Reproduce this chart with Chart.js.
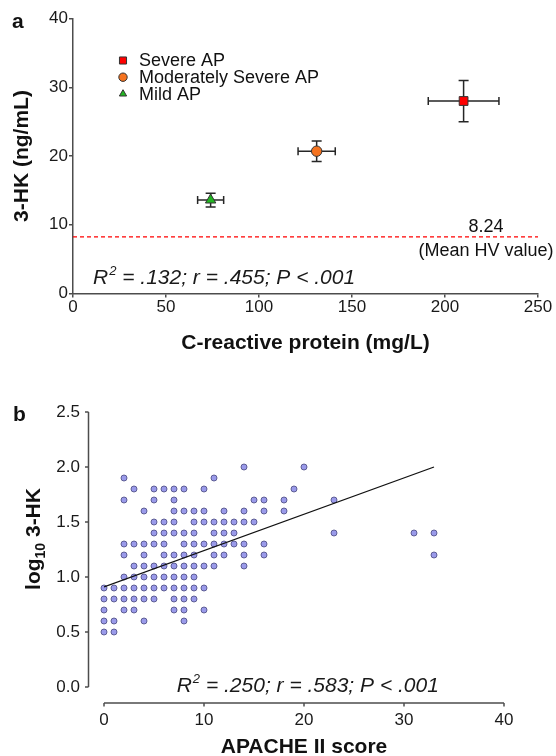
<!DOCTYPE html>
<html>
<head>
<meta charset="utf-8">
<script src="https://cdn.jsdelivr.net/npm/chart.js@4.4.1/dist/chart.umd.min.js"></script>
<style>
  html, body { margin: 0; padding: 0; background: #fff; }
  #wrapA { position: absolute; left: 0; top: 0; width: 556px; height: 360px; }
  #wrapB { position: absolute; left: 0; top: 360px; width: 556px; height: 396px; }
</style>
</head>
<body>
<div id="wrapA"><canvas id="chartA"></canvas></div>
<div id="wrapB"><canvas id="chartB"></canvas></div>
<script>
const FONT = "'Liberation Sans', Arial, Helvetica, sans-serif";
Chart.defaults.font.family = FONT;
Chart.defaults.color = '#1a1a1a';

// panel a: group means with error bars
const groupNames = ['Severe AP', 'Moderately Severe AP', 'Mild AP'];
const crpMean = [210, 131, 74];
const crpErr = [19, 10, 7];
const hkMean = [28.0, 20.7, 13.6];
const hkErr = [3.0, 1.5, 1.0];
const hvMean = 8.24;
const crpTicks = [0, 50, 100, 150, 200, 250];
const hkTicks = [0, 10, 20, 30, 40];
const statsA = ' = .132; r = .455; P < .001';

// panel b: individual patients, read row by row from top
const apacheScore = [
  14, 20,
  2, 11,
  3, 5, 6, 7, 8, 10, 19,
  2, 5, 7, 15, 16, 18, 23,
  4, 7, 8, 9, 10, 12, 14, 16, 18,
  5, 6, 7, 9, 10, 11, 12, 13, 14, 15,
  5, 6, 7, 8, 9, 11, 12, 13, 23, 31, 33,
  2, 3, 4, 5, 6, 8, 9, 10, 11, 12, 13, 14, 16,
  2, 4, 6, 7, 8, 9, 11, 12, 14, 16, 33,
  3, 4, 5, 6, 7, 8, 9, 10, 11, 14,
  2, 3, 4, 5, 6, 7, 8, 9,
  0, 1, 2, 3, 4, 5, 6, 7, 8, 9, 10,
  0, 1, 2, 3, 4, 5, 7, 8, 9,
  0, 2, 3, 7, 8, 10,
  0, 1, 4, 8,
  0, 1
];
const log3HK = [
  2.0, 2.0,
  1.9, 1.9,
  1.8, 1.8, 1.8, 1.8, 1.8, 1.8, 1.8,
  1.7, 1.7, 1.7, 1.7, 1.7, 1.7, 1.7,
  1.6, 1.6, 1.6, 1.6, 1.6, 1.6, 1.6, 1.6, 1.6,
  1.5, 1.5, 1.5, 1.5, 1.5, 1.5, 1.5, 1.5, 1.5, 1.5,
  1.4, 1.4, 1.4, 1.4, 1.4, 1.4, 1.4, 1.4, 1.4, 1.4, 1.4,
  1.3, 1.3, 1.3, 1.3, 1.3, 1.3, 1.3, 1.3, 1.3, 1.3, 1.3, 1.3, 1.3,
  1.2, 1.2, 1.2, 1.2, 1.2, 1.2, 1.2, 1.2, 1.2, 1.2, 1.2,
  1.1, 1.1, 1.1, 1.1, 1.1, 1.1, 1.1, 1.1, 1.1, 1.1,
  1.0, 1.0, 1.0, 1.0, 1.0, 1.0, 1.0, 1.0,
  0.9, 0.9, 0.9, 0.9, 0.9, 0.9, 0.9, 0.9, 0.9, 0.9, 0.9,
  0.8, 0.8, 0.8, 0.8, 0.8, 0.8, 0.8, 0.8, 0.8,
  0.7, 0.7, 0.7, 0.7, 0.7, 0.7,
  0.6, 0.6, 0.6, 0.6,
  0.5, 0.5
];
const fitX = [0, 33];
const fitY = [0.91, 2.0];
const apacheTicks = [0, 10, 20, 30, 40];
const logTicks = [0, 0.5, 1.0, 1.5, 2.0, 2.5];
const statsB = ' = .250; r = .583; P < .001';

const AXIS = '#4d4d4d';

function drawStats(ctx, x, baseline, rest, size) {
  ctx.fillStyle = '#1a1a1a';
  ctx.textBaseline = 'alphabetic';
  ctx.textAlign = 'left';
  ctx.font = 'italic ' + size + 'px ' + FONT;
  ctx.fillText('R', x, baseline);
  let w = ctx.measureText('R').width + 1;
  ctx.font = 'italic ' + Math.round(size * 0.62) + 'px ' + FONT;
  ctx.fillText('2', x + w, baseline - size * 0.42);
  w += ctx.measureText('2').width;
  ctx.font = 'italic ' + size + 'px ' + FONT;
  ctx.fillText(rest, x + w, baseline);
}

// error bars for panel a
const errorBars = {
  id: 'errorBars',
  beforeDatasetsDraw(chart) {
    const {ctx, scales: {x, y}} = chart;
    ctx.save();
    ctx.strokeStyle = '#262626';
    ctx.lineWidth = 1.5;
    crpMean.forEach((cx, i) => {
      const px = x.getPixelForValue(cx);
      const py = y.getPixelForValue(hkMean[i]);
      const x0 = x.getPixelForValue(cx - crpErr[i]);
      const x1 = x.getPixelForValue(cx + crpErr[i]);
      const y0 = y.getPixelForValue(hkMean[i] - hkErr[i]);
      const y1 = y.getPixelForValue(hkMean[i] + hkErr[i]);
      ctx.beginPath();
      ctx.moveTo(x0, py); ctx.lineTo(x1, py);
      ctx.moveTo(x0, py - 4); ctx.lineTo(x0, py + 4);
      ctx.moveTo(x1, py - 4); ctx.lineTo(x1, py + 4);
      ctx.moveTo(px, y0); ctx.lineTo(px, y1);
      ctx.moveTo(px - 5, y0); ctx.lineTo(px + 5, y0);
      ctx.moveTo(px - 5, y1); ctx.lineTo(px + 5, y1);
      ctx.stroke();
    });
    ctx.restore();
  }
};

const textA = {
  id: 'textA',
  afterDraw(chart) {
    const {ctx, chartArea, scales: {y}} = chart;
    ctx.save();
    // panel letter
    ctx.fillStyle = '#111';
    ctx.font = 'bold 21px ' + FONT;
    ctx.textAlign = 'left';
    ctx.textBaseline = 'middle';
    ctx.fillText('a', 12, 22);
    // legend
    chart.data.datasets.forEach((ds, i) => {
      if (i >= groupNames.length) return;
      const ly = chartArea.top + 42 + i * 16.7;
      const lx = chartArea.left + 50;
      ctx.fillStyle = ds.backgroundColor;
      ctx.strokeStyle = '#333';
      ctx.lineWidth = 1;
      Chart.helpers.drawPoint(ctx, {pointStyle: ds.pointStyle, radius: ds.pointStyle === 'rect' ? 5 : 4.2, rotation: 0, borderWidth: 1}, lx, ly);
      ctx.fillStyle = '#111';
      ctx.font = '18px ' + FONT;
      ctx.textAlign = 'left';
      ctx.textBaseline = 'middle';
      ctx.fillText(groupNames[i], lx + 16, ly + 1);
    });
    // HV reference label
    const hy = y.getPixelForValue(hvMean);
    ctx.fillStyle = '#111';
    ctx.font = '18px ' + FONT;
    ctx.textAlign = 'center';
    ctx.textBaseline = 'middle';
    ctx.fillText(hvMean.toFixed(2), chartArea.right - 52, hy - 10);
    ctx.fillText('(Mean HV value)', chartArea.right - 52, hy + 14);
    drawStats(ctx, chartArea.left + 20, chartArea.bottom - 10, statsA, 21);
    ctx.restore();
  }
};

new Chart(document.getElementById('chartA'), {
  type: 'scatter',
  data: {
    datasets: [
      {
        label: groupNames[0],
        data: [{x: crpMean[0], y: hkMean[0]}],
        pointStyle: 'rect', pointRadius: 6.2,
        backgroundColor: '#ff0000', borderColor: '#333', pointBorderWidth: 1,
        order: 1
      },
      {
        label: groupNames[1],
        data: [{x: crpMean[1], y: hkMean[1]}],
        pointStyle: 'circle', pointRadius: 5.2,
        backgroundColor: '#f5731f', borderColor: '#333', pointBorderWidth: 1,
        order: 1
      },
      {
        label: groupNames[2],
        data: [{x: crpMean[2], y: hkMean[2]}],
        pointStyle: 'triangle', pointRadius: 6,
        backgroundColor: '#22b522', borderColor: '#333', pointBorderWidth: 1,
        order: 1
      },
      {
        type: 'line',
        label: 'Mean HV value',
        data: [{x: crpTicks[0], y: hvMean}, {x: crpTicks[crpTicks.length - 1], y: hvMean}],
        borderColor: '#ff0000', borderWidth: 1.2, borderDash: [4, 3],
        pointRadius: 0, fill: false,
        order: 2
      }
    ]
  },
  options: {
    responsive: true,
    maintainAspectRatio: false,
    animation: false,
    layout: { padding: { top: 18.5, right: 18, left: 0, bottom: 0 } },
    scales: {
      x: {
        type: 'linear',
        min: crpTicks[0], max: crpTicks[crpTicks.length - 1],
        ticks: { stepSize: crpTicks[1] - crpTicks[0], font: { size: 17 }, padding: 0, maxRotation: 0 },
        grid: { drawOnChartArea: false, drawTicks: true, tickLength: 4, color: AXIS, lineWidth: 1.5 },
        border: { color: AXIS, width: 1.5 },
        title: { display: true, text: 'C-reactive protein (mg/L)', font: { size: 21, weight: 'bold' }, color: '#111', padding: { top: 0, bottom: 4 } },
        afterFit: s => { s.height = 66.5; }
      },
      y: {
        type: 'linear',
        min: hkTicks[0], max: hkTicks[hkTicks.length - 1],
        ticks: { stepSize: hkTicks[1] - hkTicks[0], font: { size: 17 }, padding: 1 },
        grid: { drawOnChartArea: false, drawTicks: true, tickLength: 4, color: AXIS, lineWidth: 1.5 },
        border: { color: AXIS, width: 1.5 },
        title: { display: true, text: '3-HK (ng/mL)', font: { size: 21, weight: 'bold' }, color: '#111', padding: { top: 10, bottom: 0 } },
        afterFit: s => { s.width = 73; }
      }
    },
    plugins: { legend: { display: false }, tooltip: { enabled: false } }
  },
  plugins: [errorBars, textA]
});

// offset (Prism-style) axes and texts for panel b
const offsetAxesB = {
  id: 'offsetAxesB',
  afterDraw(chart) {
    const {ctx, chartArea, scales: {x, y}} = chart;
    ctx.save();
    ctx.strokeStyle = AXIS;
    ctx.lineWidth = 1.5;
    const sx = chartArea.left - 15.5;
    const sy = chartArea.bottom + 16;
    ctx.beginPath();
    ctx.moveTo(sx, y.getPixelForValue(logTicks[logTicks.length - 1]));
    ctx.lineTo(sx, y.getPixelForValue(logTicks[0]));
    logTicks.forEach(v => {
      const py = y.getPixelForValue(v);
      ctx.moveTo(sx - 3.5, py); ctx.lineTo(sx, py);
    });
    ctx.moveTo(x.getPixelForValue(apacheTicks[0]), sy);
    ctx.lineTo(x.getPixelForValue(apacheTicks[apacheTicks.length - 1]), sy);
    apacheTicks.forEach(v => {
      const px = x.getPixelForValue(v);
      ctx.moveTo(px, sy); ctx.lineTo(px, sy + 3.5);
    });
    ctx.stroke();

    ctx.fillStyle = '#111';
    ctx.font = 'bold 21px ' + FONT;
    ctx.textAlign = 'left';
    ctx.textBaseline = 'middle';
    ctx.fillText('b', 13, 55);

    // y title with subscript
    ctx.save();
    ctx.translate(40, 179);
    ctx.rotate(-Math.PI / 2);
    const big = 'bold 21px ' + FONT, small = 'bold 14px ' + FONT;
    ctx.font = big; const w1 = ctx.measureText('log').width;
    ctx.font = small; const w2 = ctx.measureText('10').width;
    ctx.font = big; const w3 = ctx.measureText(' 3-HK').width;
    let tx = -(w1 + w2 + w3) / 2;
    ctx.textBaseline = 'alphabetic';
    ctx.font = big; ctx.fillText('log', tx, 0); tx += w1;
    ctx.font = small; ctx.fillText('10', tx, 5); tx += w2;
    ctx.font = big; ctx.fillText(' 3-HK', tx, 0);
    ctx.restore();

    drawStats(ctx, chartArea.left + 72.7, chartArea.bottom + 4.7, statsB, 21);
    ctx.restore();
  }
};

new Chart(document.getElementById('chartB'), {
  type: 'scatter',
  data: {
    datasets: [
      {
        type: 'line',
        label: 'Linear fit',
        data: fitX.map((v, i) => ({x: v, y: fitY[i]})),
        borderColor: '#111', borderWidth: 1.3, pointRadius: 0, fill: false,
        order: 0
      },
      {
        label: 'Patients',
        data: apacheScore.map((v, i) => ({x: v, y: log3HK[i]})),
        pointRadius: 3,
        backgroundColor: '#9a9aea', borderColor: '#54548a', pointBorderWidth: 0.9,
        clip: false,
        order: 1
      }
    ]
  },
  options: {
    responsive: true,
    maintainAspectRatio: false,
    animation: false,
    layout: { padding: { top: 52, right: 52, left: 0, bottom: 0 } },
    scales: {
      x: {
        type: 'linear',
        min: apacheTicks[0], max: apacheTicks[apacheTicks.length - 1],
        ticks: { stepSize: apacheTicks[1] - apacheTicks[0], font: { size: 17 }, padding: 23, maxRotation: 0 },
        grid: { display: false, drawTicks: false },
        border: { display: false },
        title: { display: true, text: 'APACHE II score', font: { size: 21, weight: 'bold', lineHeight: 0.86 }, color: '#111', padding: { top: 0, bottom: 0 } },
        afterFit: s => { s.height = 69; }
      },
      y: {
        type: 'linear',
        min: logTicks[0], max: logTicks[logTicks.length - 1],
        ticks: { stepSize: logTicks[1] - logTicks[0], font: { size: 17 }, padding: 24, callback: v => Number(v).toFixed(1) },
        grid: { display: false, drawTicks: false },
        border: { display: false },
        title: { display: false },
        afterFit: s => { s.width = 104; }
      }
    },
    plugins: { legend: { display: false }, tooltip: { enabled: false } }
  },
  plugins: [offsetAxesB]
});
</script>
</body>
</html>
